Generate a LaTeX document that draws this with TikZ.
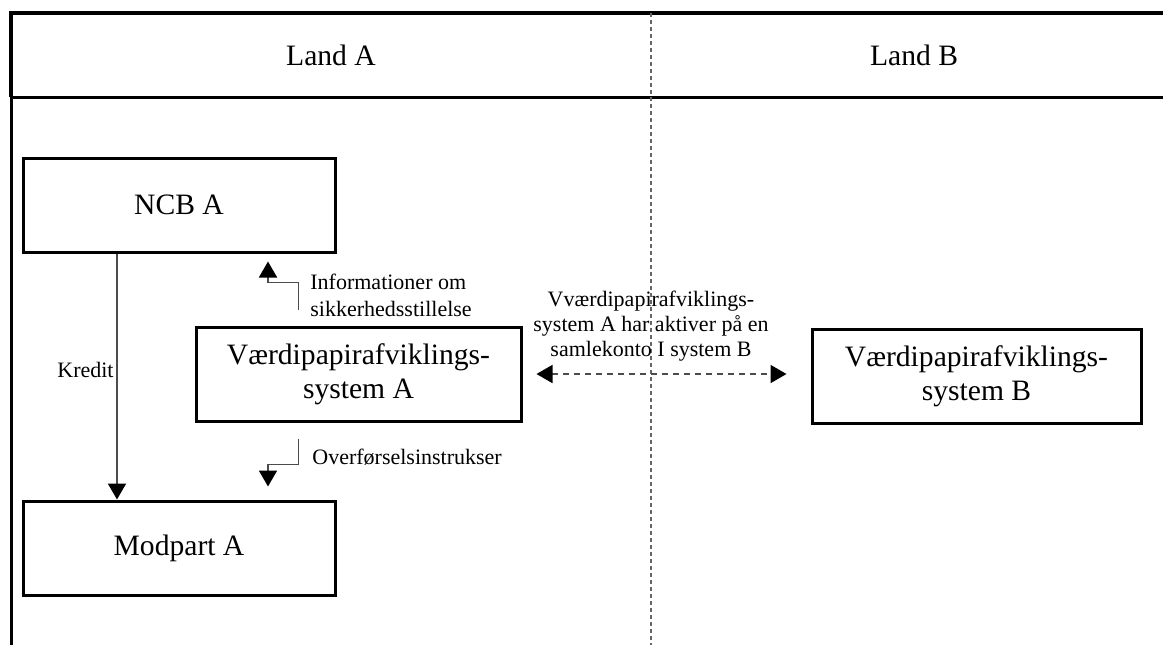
\documentclass[tikz,border=0pt]{standalone}
\usepackage{fontspec}
\setmainfont{Liberation Serif}
\usetikzlibrary{calc,arrows.meta}

\begin{document}
\begin{tikzpicture}[x=0.5pt,y=-0.5pt,
        box/.style={draw,line width=1.5pt,minimum width=156pt,minimum height=47pt,align=center,font=\fontsize{14.8}{17}\selectfont},
        lbl/.style={font=\fontsize{11}{13.5}\selectfont,inner sep=0pt,align=left},
        tip/.style={-{Triangle[width=9pt,length=8pt,black]}},
        flow/.style={black!70,line width=0.9pt}]
                \useasboundingbox (0,0) rectangle (1163,645);
                \draw[line width=1.5pt] (11,97)--(11,645);
                \draw[line width=2pt] (11,97)--(11,13)--(1163,13);
                \draw[line width=1.5pt] (11,97)--(1163,97);
                \draw[black!60,line width=0.8pt,dash pattern=on 2pt off 1.5pt] (651,13)--(651,645);
                \node[font=\fontsize{14.8}{17}\selectfont] (landA) at (331,55) {Land A};
                \node[font=\fontsize{14.8}{17}\selectfont] (landB) at (914,55) {Land B};
                \node[box] (ncb) at (179,205) {NCB A};
                \node[box,minimum width=162.5pt] (sysA) at (358.5,374) {Værdipapirafviklings-\\system A};
                \node[box,minimum width=164.5pt] (sysB) at (976.5,376) {Værdipapirafviklings-\\system B};
                \node[box] (modpart) at (179,548) {Modpart A};
                \draw[flow,tip] ([xshift=-31pt]ncb.south)--([xshift=-31pt]modpart.north);
                \node[lbl,anchor=east] (kredit) at (114,370) {Kredit};
                \draw[flow,tip] ($(sysA.north)+(-60,-16)$)--++(0,-27)-|($(ncb.south)+(89,8)$);
                \node[lbl,anchor=west] (info) at (310,295) {Informationer om\\sikkerhedsstillelse};
                \draw[flow,tip] ($(sysA.south)+(-60,16)$)--++(0,26)-|($(modpart.north)+(89,-13)$);
                \node[lbl,anchor=west] (overf) at (312,457) {Overførselsinstrukser};
                \draw[black!70,line width=0.9pt,dash pattern=on 3pt off 2.5pt,{Triangle[width=9pt,length=8pt,black]}-{Triangle[width=9pt,length=8pt,black]}] ($(sysA.east)+(14,0)$)--($(sysB.west)+(-24,-2)$);
                \node[lbl,align=center,font=\fontsize{11}{12.5}\selectfont] (konto) at (651,326) {Vværdipapirafviklings-\\system A har aktiver på en\\samlekonto I system B};
            \end{tikzpicture}
\end{document}
